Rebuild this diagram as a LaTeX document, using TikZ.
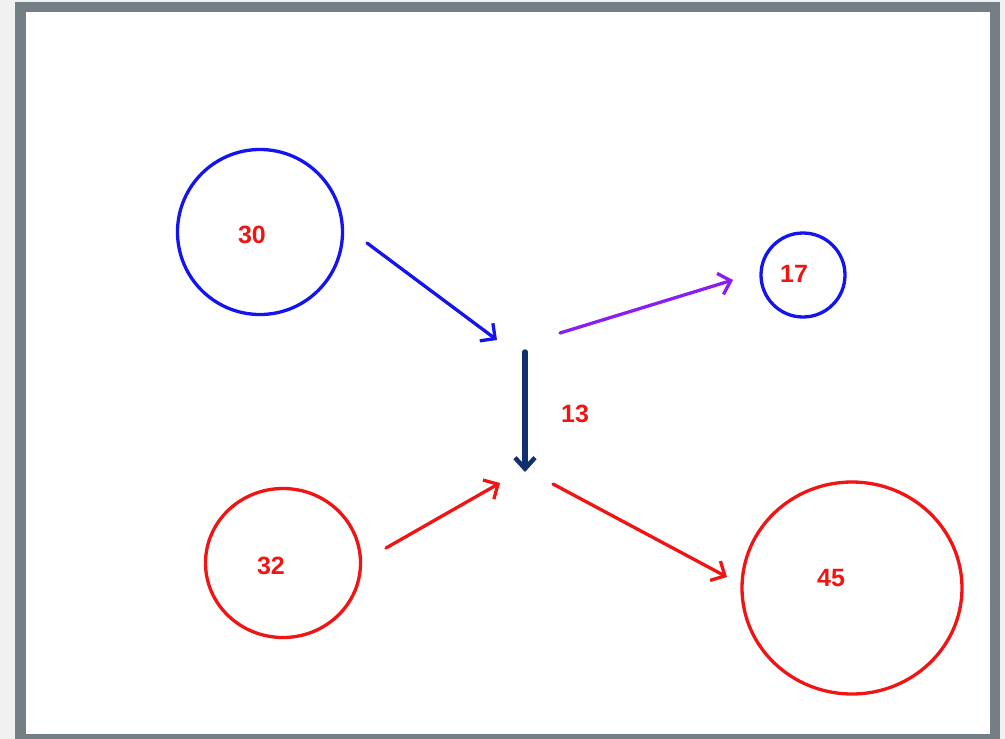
\documentclass[tikz,border=0pt]{standalone}
\usepackage{fontspec}
\setmainfont{Liberation Sans}
\usetikzlibrary{arrows.meta,shapes.geometric}
\definecolor{bgc}{HTML}{F1F1F1}
\definecolor{framec}{HTML}{737F84}
\definecolor{cblue}{HTML}{1414F0}
\definecolor{cred}{HTML}{F01414}
\definecolor{cpurple}{HTML}{8A1EF0}
\definecolor{cnavy}{HTML}{12306E}
\tikzset{
  ring/.style={draw=#1, line width=3.3pt, inner sep=0pt},
  num/.style={text=cred, font=\bfseries\fontsize{25}{27}\selectfont},
  arr/.style={draw=#1, line width=3.3pt, line cap=round, -{Straight Barb[length=11pt,width=22pt,line width=3.3pt]}},
}
\begin{document}
\begin{tikzpicture}[x=1pt,y=-1pt]
\useasboundingbox (0,0) rectangle (1005,739);
\fill[bgc] (0,0) rectangle (1005,739);
\fill[framec] (15,2) rectangle (1000,745);
\fill[white] (26,12) rectangle (990,734);
% circles
\node[ring=cblue, circle, minimum size=165pt] (c30) at (260,232) {};
\node[ring=cblue, circle, minimum size=84pt] (c17) at (803,275) {};
\node[ring=cred, ellipse, minimum width=155pt, minimum height=149pt] (c32) at (283,563) {};
\node[ring=cred, ellipse, minimum width=220pt, minimum height=212pt] (c45) at (852,588) {};
% labels
\node[num] (t30) at (252,235) {30};
\node[num] (t17) at (794,274) {17};
\node[num] (t32) at (271,566) {32};
\node[num] (t45) at (831,578) {45};
\node[num] (t13) at (575,414) {13};
% connector ends
\coordinate (a1s) at (367,243); \coordinate (a1e) at (497,340);
\coordinate (a2s) at (560,333); \coordinate (a2e) at (733,280);
\coordinate (a3s) at (525,352); \coordinate (a3e) at (525,472);
\coordinate (a4s) at (386,548); \coordinate (a4e) at (500,483);
\coordinate (a5s) at (553,484); \coordinate (a5e) at (727,577);
\draw[arr=cblue] (a1s) -- (a1e);
\draw[arr=cpurple] (a2s) -- (a2e);
\draw[arr=cnavy, line width=5.5pt, -{Straight Barb[length=11pt,width=20pt,line width=4.5pt]}] (a3s) -- (a3e);
\draw[arr=cred] (a4s) -- (a4e);
\draw[arr=cred] (a5s) -- (a5e);
\end{tikzpicture}
\end{document}
